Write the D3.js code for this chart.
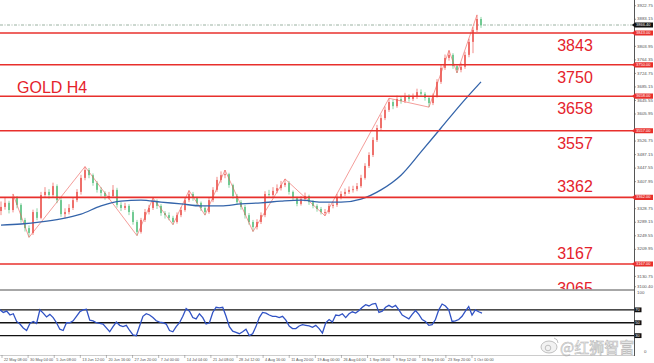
<!DOCTYPE html>
<meta charset="utf-8">
<head>
<style>
body { margin: 0; background: #fff; }
svg { display: block; font-family: "Liberation Sans", Arial, sans-serif; }
.lvl-text { fill: #e5222b; font-size: 16px; }
.ax-text { font-size: 4.4px; fill: #555; }
.tm-text { font-size: 3.8px; fill: #555; }
.box-text { font-size: 4px; fill: #fff; }
</style>
<title>GOLD H4</title>
</head>
<body>
<svg id="chart" width="654" height="363"></svg>
<script src="https://d3js.org/d3.v7.min.js"></script>
<script>
// H4 candles (grouped, one per ~4px)
var firstOpen = 3322;
var closeP = [
  3334,3346,3325,3360,3340,3296,3272,3258,3319,3302,
  3369,3378,3369,3395,3354,3313,3319,3331,3354,3378,
  3419,3442,3427,3404,3384,3375,3366,3366,3384,3340,
  3331,3337,3319,3290,3261,3296,3319,3331,3351,3337,
  3316,3310,3302,3290,3310,3325,3354,3372,3360,3346,
  3331,3319,3354,3384,3413,3427,3430,3398,3366,3348,
  3334,3310,3290,3275,3290,3310,3372,3369,3381,3389,
  3398,3404,3378,3360,3343,3357,3366,3348,3337,3328,
  3319,3319,3337,3340,3363,3372,3378,3384,3386,3395,
  3419,3454,3486,3530,3565,3594,3618,3641,3629,3650,
  3644,3659,3650,3656,3670,3665,3653,3638,3659,3700,
  3741,3770,3779,3746,3735,3744,3779,3817,3852,3884,
  3866
];
var highP = [
  3350,3362,3352,3372,3366,3345,3302,3280,3326,3330,
  3378,3392,3386,3405,3400,3360,3330,3342,3362,3386,
  3428,3452,3448,3432,3410,3392,3380,3378,3398,3390,
  3348,3346,3342,3325,3296,3302,3328,3340,3360,3356,
  3342,3322,3318,3308,3318,3334,3362,3382,3378,3364,
  3350,3336,3362,3392,3422,3438,3442,3434,3402,3372,
  3354,3340,3316,3296,3298,3318,3380,3384,3392,3400,
  3410,3416,3410,3382,3364,3366,3376,3370,3354,3342,
  3334,3328,3344,3350,3372,3380,3388,3394,3396,3404,
  3428,3462,3494,3538,3574,3604,3628,3652,3648,3660,
  3658,3668,3664,3666,3680,3678,3670,3656,3666,3708,
  3750,3780,3792,3784,3752,3756,3788,3826,3860,3896,
  3890
];
var lowP = [
  3310,3326,3315,3318,3330,3288,3262,3245,3252,3295,
  3298,3360,3358,3362,3345,3305,3300,3312,3325,3348,
  3370,3412,3418,3396,3376,3365,3355,3356,3360,3332,
  3322,3325,3310,3282,3250,3256,3290,3312,3325,3328,
  3308,3300,3295,3282,3285,3304,3320,3348,3352,3338,
  3322,3310,3314,3348,3378,3405,3418,3390,3358,3340,
  3326,3300,3282,3262,3268,3284,3304,3360,3362,3374,
  3382,3392,3370,3352,3336,3338,3350,3340,3330,3320,
  3312,3308,3314,3330,3334,3356,3366,3372,3376,3380,
  3390,3414,3448,3480,3524,3558,3588,3612,3620,3624,
  3636,3638,3642,3644,3650,3656,3645,3626,3632,3654,
  3694,3735,3762,3738,3726,3728,3738,3772,3784,3846,
  3858
];
// moving average, one value every 5 candles
var maP = [3281,3284,3290,3299,3313,3337,3351,3354,3348,3343,3337,3337,3343,
           3346,3351,3354,3348,3348,3357,3384,3427,3495,3565,3635,3700];
// zigzag swing points [candle, price]
var zigzag = [[3,3372],[7,3245],[21,3452],[34,3250],[38,3360],[43,3282],[47,3382],
              [51,3310],[56,3442],[63,3262],[71,3416],[81,3308],[97,3652],[107,3626],
              [112,3792],[114,3726],[119,3896]];
// RSI sub window
var rsiV = [
  70,66,68,62,64,52,48,42,38,49,
  52,49,70,65,59,63,58,50,40,38,
  50,50,53,60,67,70,71,54,53,50,
  49,48,42,36,44,51,46,44,46,38,
  31,30,45,60,64,62,58,53,51,50,
  48,38,36,44,50,60,72,68,58,56,
  64,58,48,50,66,74,73,74,60,44,
  37,35,33,36,40,30,33,44,58,66,
  65,62,60,60,58,60,54,45,41,41,
  45,47,46,45,43,46,41,34,50,55,
  51,62,61,64,58,64,67,65,69,74,
  78,76,79,80,66,68,74,77,74,77,
  70,62,59,56,63,69,63,55,52,46,
  47,55,70,79,76,70,52,53,55,60,
  68,75,62,70,67,65
];
var rsiLevels = [70, 50, 30];
var levels = [3843, 3750, 3658, 3557, 3362, 3167, 3065];
var lastPrice = 3866.4;
var priceTicks = [3922.75,3883.15,3803.95,3764.35,3724.75,3685.15,3645.55,
                  3605.95,3526.75,3487.15,3447.55,3407.95,3328.75,
                  3289.15,3249.55,3209.95,3130.75,3100.40];
var timeLabels = ["22 May 08:00","30 May 04:00","5 Jun 08:00","13 Jun 12:00","20 Jun 16:00",
                  "27 Jun 20:00","7 Jul 00:00","14 Jul 04:00","21 Jul 08:00","28 Jul 12:00",
                  "4 Aug 16:00","11 Aug 20:00","19 Aug 00:00","26 Aug 04:00","1 Sep 08:00",
                  "9 Sep 12:00","16 Sep 16:00","23 Sep 20:00","1 Oct 00:00"];

var svg = d3.select("#chart");
var plotR = 634, mainBot = 289.5, subTop = 290.5, subBot = 355;

var x = d3.scaleLinear().domain([0, closeP.length - 1]).range([1, 481]);
var y = d3.scaleLinear().domain([3167, 3843]).range([264, 33]);
var xR = d3.scaleLinear().domain([0, rsiV.length - 1]).range([0, 482]);
var yR = d3.scaleLinear().domain([0, 100]).range([subBot, subTop]);
var xT = d3.scaleLinear().domain([0, timeLabels.length - 1]).range([2, 472]);

var defs = svg.append("defs");
defs.append("clipPath").attr("id", "clipMain")
  .append("rect").attr("x", 0).attr("y", 0).attr("width", plotR).attr("height", mainBot);
defs.append("clipPath").attr("id", "clipSub")
  .append("rect").attr("x", 0).attr("y", subTop).attr("width", plotR).attr("height", subBot - subTop);

var main = svg.append("g").attr("clip-path", "url(#clipMain)");

// current price dash line
main.append("line")
  .attr("x1", 0).attr("x2", plotR)
  .attr("y1", y(lastPrice)).attr("y2", y(lastPrice))
  .attr("stroke", "#8fa896").attr("stroke-width", 0.9)
  .attr("stroke-dasharray", "3,1.5,1,1.5");

var bars = closeP.map(function(c, i) {
  return {i: i, o: i ? closeP[i - 1] : firstOpen, c: c, h: highP[i], l: lowP[i]};
});
function col(d) { return d.c >= d.o ? "#ec5a55" : "#5cc383"; }

var candles = main.append("g").selectAll("g").data(bars).enter().append("g");
candles.append("line")
  .attr("x1", function(d) { return x(d.i); })
  .attr("x2", function(d) { return x(d.i); })
  .attr("y1", function(d) { return y(d.h); })
  .attr("y2", function(d) { return y(d.l); })
  .attr("stroke", col).attr("stroke-width", 0.7);
candles.append("rect")
  .attr("x", function(d) { return x(d.i) - 0.8; })
  .attr("width", 1.6)
  .attr("y", function(d) { return y(Math.max(d.o, d.c)); })
  .attr("height", function(d) { return Math.max(1, Math.abs(y(d.o) - y(d.c))); })
  .attr("fill", col);

// zigzag
main.append("path")
  .datum(zigzag)
  .attr("fill", "none").attr("stroke", "#ec5a55").attr("stroke-width", 0.6)
  .attr("d", d3.line().x(function(d) { return x(d[0]); }).y(function(d) { return y(d[1]); }));

// moving average
main.append("path")
  .datum(maP)
  .attr("fill", "none").attr("stroke", "#3464aa").attr("stroke-width", 1.3)
  .attr("d", d3.line().curve(d3.curveMonotoneX)
    .x(function(d, i) { return x(i * 5); }).y(function(d) { return y(d); }));

// support / resistance lines
main.selectAll("line.lvl").data(levels).enter().append("line")
  .attr("class", "lvl")
  .attr("x1", 0).attr("x2", plotR)
  .attr("y1", function(d) { return y(d); }).attr("y2", function(d) { return y(d); })
  .attr("stroke", "#e8302c").attr("stroke-width", 1.6);

main.selectAll("text.lvl-text").data(levels).enter().append("text")
  .attr("class", "lvl-text")
  .attr("x", 575).attr("text-anchor", "middle")
  .attr("y", function(d, i) { return i < 4 ? y(d) + 18 : y(d) - 5; })
  .text(function(d) { return d; });

main.append("text").attr("class", "lvl-text")
  .attr("x", 17).attr("y", 93).text("GOLD H4");

// separator between panes
svg.append("line").attr("x1", 0).attr("x2", plotR).attr("y1", mainBot + 0.5).attr("y2", mainBot + 0.5)
  .attr("stroke", "#8a8a8a").attr("stroke-width", 1.4);

// RSI pane
var sub = svg.append("g").attr("clip-path", "url(#clipSub)");
sub.selectAll("line.rl").data(rsiLevels).enter().append("line")
  .attr("x1", 0).attr("x2", plotR)
  .attr("y1", function(d) { return yR(d); }).attr("y2", function(d) { return yR(d); })
  .attr("stroke", "#111").attr("stroke-width", 1.3);
sub.append("path")
  .datum(rsiV)
  .attr("fill", "none").attr("stroke", "#3052c4").attr("stroke-width", 1.3)
  .attr("d", d3.line().x(function(d, i) { return xR(i); }).y(function(d) { return yR(d); }));

// right axis
svg.append("line").attr("x1", plotR + 0.5).attr("x2", plotR + 0.5).attr("y1", 0).attr("y2", subBot + 1)
  .attr("stroke", "#555").attr("stroke-width", 1);
svg.append("line").attr("x1", 0).attr("x2", plotR).attr("y1", subBot + 0.5).attr("y2", subBot + 0.5)
  .attr("stroke", "#aaa").attr("stroke-width", 0.6);

var ax = svg.append("g");
ax.selectAll("text.pt").data(priceTicks).enter().append("text")
  .attr("class", "ax-text")
  .attr("x", plotR + 3).attr("y", function(d) { return y(d); })
  .attr("dominant-baseline", "middle")
  .text(function(d) { return d.toFixed(2); });
ax.selectAll("line.pt").data(priceTicks).enter().append("line")
  .attr("x1", plotR).attr("x2", plotR + 2)
  .attr("y1", function(d) { return y(d); }).attr("y2", function(d) { return y(d); })
  .attr("stroke", "#555").attr("stroke-width", 0.6);

function tag(g, yy, fill, label, w) {
  g.append("path")
    .attr("d", "M" + (plotR - 2) + "," + yy + "L" + (plotR + 1) + "," + (yy - 2.6) +
      "H" + (plotR + w) + "V" + (yy + 2.6) + "H" + (plotR + 1) + "Z")
    .attr("fill", fill);
  g.append("text").attr("class", "box-text")
    .attr("x", plotR + 2).attr("y", yy).attr("dominant-baseline", "middle").text(label);
}
levels.forEach(function(d) {
  if (y(d) < mainBot) tag(ax, y(d), "#e8302c", d.toFixed(2), 19);
});
tag(ax, y(lastPrice), "#111", lastPrice.toFixed(2), 19);

ax.append("text").attr("class", "ax-text").attr("x", plotR + 3).attr("y", yR(100) + 2.5)
  .attr("dominant-baseline", "middle").text("100");
rsiLevels.forEach(function(d) {
  ax.append("rect").attr("x", plotR + 0.5).attr("y", yR(d) - 2.4).attr("width", 7).attr("height", 4.8).attr("fill", "#111");
  ax.append("text").attr("class", "box-text").attr("x", plotR + 1.2).attr("y", yR(d))
    .attr("dominant-baseline", "middle").text(d);
});
ax.append("text").attr("class", "ax-text").attr("x", plotR + 10).attr("y", yR(0) - 3)
  .attr("dominant-baseline", "middle").text("0");

// time axis
ax.selectAll("text.tl").data(timeLabels).enter().append("text")
  .attr("class", "tm-text")
  .attr("x", function(d, i) { return xT(i) + 2; }).attr("y", 359.5)
  .attr("dominant-baseline", "middle")
  .text(function(d) { return d; });
ax.selectAll("line.tl").data(timeLabels).enter().append("line")
  .attr("x1", function(d, i) { return xT(i); }).attr("x2", function(d, i) { return xT(i); })
  .attr("y1", subBot).attr("y2", subBot + 3)
  .attr("stroke", "#777").attr("stroke-width", 0.5);

// watermark
var wm = svg.append("g").attr("opacity", 0.75);
wm.append("ellipse").attr("cx", 549).attr("cy", 347).attr("rx", 8).attr("ry", 6)
  .attr("fill", "#eee").attr("stroke", "#999").attr("stroke-width", 0.8);
wm.append("circle").attr("cx", 548).attr("cy", 348).attr("r", 2.8)
  .attr("fill", "none").attr("stroke", "#999").attr("stroke-width", 0.8);
wm.append("path").attr("d", "M554,338 q4,1 4,5").attr("fill", "none").attr("stroke", "#999").attr("stroke-width", 0.8);
wm.append("text")
  .attr("x", 560).attr("y", 353)
  .attr("font-family", "'Noto Sans CJK SC', sans-serif").attr("font-size", 15)
  .attr("fill", "#eee").attr("stroke", "#9a9a9a").attr("stroke-width", 0.5)
  .text("@红狮智富");
</script>
</body>
